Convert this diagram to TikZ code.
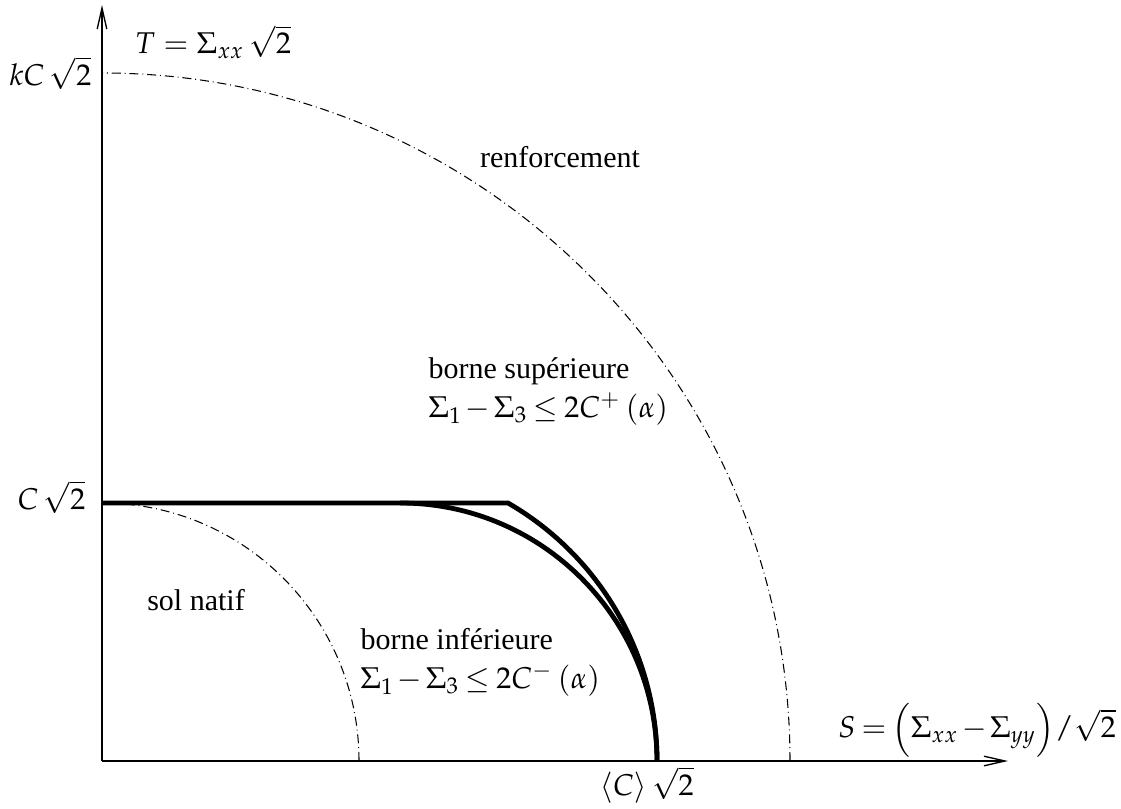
\documentclass[tikz,border=0pt]{standalone}
\usepackage{mathpazo}
\usepackage[no-math]{fontspec}
\setmainfont{Liberation Serif}
\usetikzlibrary{arrows.meta}

\begin{document}
\begin{tikzpicture}[x=0.3333pt,y=0.3333pt,line join=miter,font=\normalsize,
  axis/.style={line width=0.45pt,-{Straight Barb[length=7pt,width=3.2pt]}},
  bound/.style={line width=1.6pt},
  limit/.style={line width=0.35pt,dash pattern=on 3pt off 1.3pt on 0.3pt off 1.3pt},
  lbl/.style={inner sep=0pt},
  tight/.style={lbl,execute at begin node={\medmuskip=2mu\thickmuskip=3.5mu}}]
  \useasboundingbox (-102,-47) rectangle (1019,761);
  \coordinate (O) at (0,0);
  \coordinate (Tmax) at (0,756);
  \coordinate (Smax) at (906,0);
  \coordinate (Cs) at (0,258);
  \coordinate (Cp) at (406,258);
  \coordinate (Cm) at (298,258);
  % axes
  \draw[axis] (O) -- (Smax);
  \draw[axis] (O) -- (Tmax);
  % criteres
  \draw[limit] (688,0) arc[start angle=0,end angle=90,radius=688];
  \draw[limit] (257,0) arc[start angle=0,end angle=90,x radius=257,y radius=258];
  % bornes
  \draw[bound] (Cs) -- (Cp) arc[start angle=60,end angle=0,radius=298];
  \draw[bound] (Cm) arc[start angle=90,end angle=0,x radius=257,y radius=258];
  % textes
  \node[lbl,anchor=east] (kC) at (-10,688) {$kC\,\sqrt{2}$};
  \node[lbl,anchor=east] (C) at (-16,264) {$C\,\sqrt{2}$};
  \node[lbl] (T) at (111,719) {$T = \Sigma_{xx}\,\sqrt{2}$};
  \node[tight] (S) at (875,31) {$S = \Bigl(\Sigma_{xx} - \Sigma_{yy}\Bigr) / \sqrt{2}$};
  \node[lbl] (Cmoy) at (545,-24) {$\langle C\rangle\,\sqrt{2}$};
  \node[lbl,anchor=base] (renf) at (458,593) {renforcement};
  \node[tight,anchor=north west,align=left] (sup) at (326,404)
    {borne supérieure\\[1pt] $\Sigma_1 - \Sigma_3 \le 2C^{+}\,(\alpha)$};
  \node[tight,anchor=north west,align=left] (inf) at (258,133)
    {borne inférieure\\[1pt] $\Sigma_1 - \Sigma_3 \le 2C^{-}\,(\alpha)$};
  \node[lbl] (natif) at (94,161) {sol natif};
\end{tikzpicture}
\end{document}
